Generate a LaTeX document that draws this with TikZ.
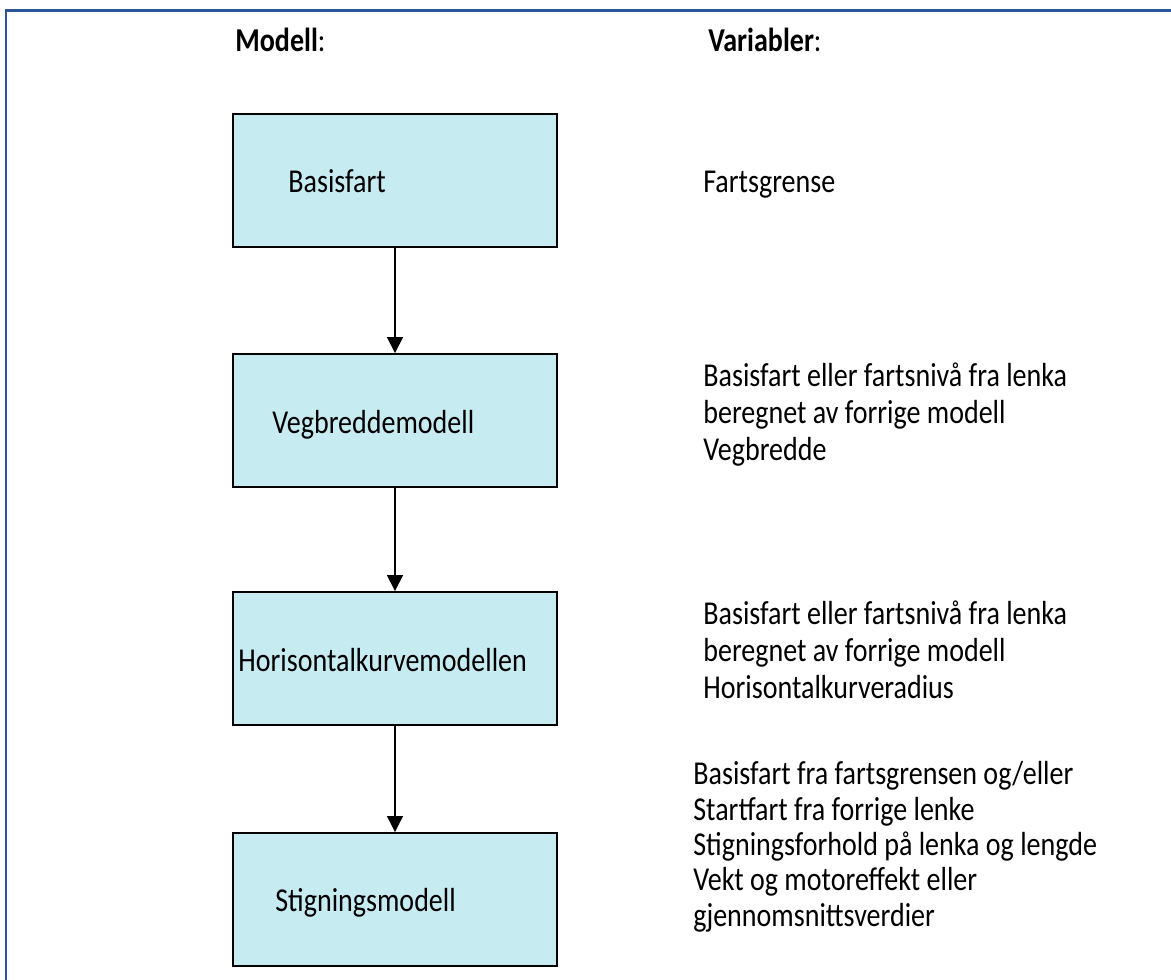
\documentclass[tikz,border=0pt]{standalone}
\usepackage{fontspec}
\setmainfont{Carlito}[FakeStretch=0.84]
\usetikzlibrary{arrows.meta,positioning}
\definecolor{rammeblaa}{RGB}{47,85,151}
\definecolor{boksfyll}{RGB}{198,235,241}
\tikzset{
  modell/.style={draw, fill=boksfyll, line width=1.1pt, minimum width=6.48cm, minimum height=2.66cm, inner sep=0pt},
  tekst/.style={anchor=base west, inner sep=0pt, align=left, font=\fontsize{19}{20.8}\selectfont},
  pil/.style={-{Triangle[length=0.32cm,width=0.32cm]}, line width=0.85pt}
}
\begin{document}
\begin{tikzpicture}[x=0.02cm,y=-0.02cm]
      \useasboundingbox (0,0) rectangle (1171,980);
      \draw[rammeblaa, line width=1.3pt] (6,980) -- (6,10.5) -- (1171,10.5);
      \path
        (235,52) node[tekst] (hmodell){\textbf{Modell}:}
        (708,52) node[tekst] (hvar){\textbf{Variabler}:};
      \path
        (395,180.5) node[modell] (basis){}
        (395,420.5) node[modell] (vegbredde){}
        (395,658.5) node[modell] (horis){}
        (395,899.5) node[modell] (stigning){};
      \path
        (288,193) node[tekst] (tbasis){Basisfart}
        (272,433) node[tekst] (tvegbredde){Vegbreddemodell}
        (238,671) node[tekst] (thoris){Horisontalkurvemodellen}
        (275,911) node[tekst] (tstigning){Stigningsmodell};
      % base anchor = baseline of last line
      \path
        (703,193) node[tekst] (vbasis){Fartsgrense}
        (703,460) node[tekst] (vvegbredde){Basisfart eller fartsnivå fra lenka\\beregnet av forrige modell\\Vegbredde}
        (703,698) node[tekst] (vhoris){Basisfart eller fartsnivå fra lenka\\beregnet av forrige modell\\Horisontalkurveradius}
        (693,926) node[tekst, font=\fontsize{19}{20.1}\selectfont] (vstigning){Basisfart fra fartsgrensen og/eller\\Startfart fra forrige lenke\\Stigningsforhold på lenka og lengde\\Vekt og motoreffekt eller\\gjennomsnittsverdier};
      \begin{scope}[pil]
        \draw (basis) to (vegbredde);
        \draw (vegbredde) to (horis);
        \draw[line width=0.6pt] (horis) to (stigning);
      \end{scope}
    \end{tikzpicture}
\end{document}
